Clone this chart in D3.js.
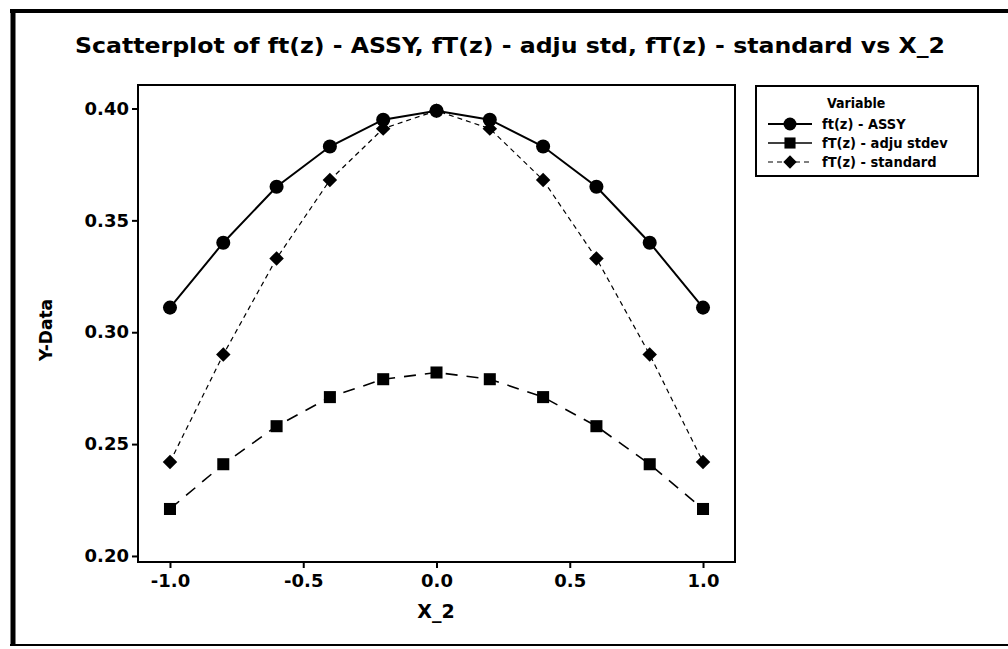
<!DOCTYPE html>
<html><head><meta charset="utf-8">
<script src="https://cdn.jsdelivr.net/npm/d3@7"></script>
<style>body{margin:0;background:#fff}svg{display:block}</style>
</head><body>
<svg id="c" width="1008" height="649"></svg>
<script>
const xValues = [-1.0,-0.8,-0.6,-0.4,-0.2,0.0,0.2,0.4,0.6,0.8,1.0];
const assy = [0.311,0.340,0.365,0.383,0.395,0.399,0.395,0.383,0.365,0.340,0.311];
const adjuStdev = [0.221,0.241,0.258,0.271,0.279,0.282,0.279,0.271,0.258,0.241,0.221];
const standard = [0.242,0.290,0.333,0.368,0.391,0.399,0.391,0.368,0.333,0.290,0.242];
const seriesNames = ["ft(z) - ASSY","fT(z) - adju stdev","fT(z) - standard"];
const xTicks = [-1.0,-0.5,0.0,0.5,1.0];
const yTicks = [0.20,0.25,0.30,0.35,0.40];

const svg = d3.select("#c");
const F = "'DejaVu Sans', Verdana, sans-serif";
const FC = "'DejaVu Sans Condensed', 'DejaVu Sans', sans-serif";
svg.append("rect").attr("x",0).attr("y",0).attr("width",1008).attr("height",649).attr("fill","#fff");
svg.append("line").attr("x1",10).attr("x2",1008).attr("y1",11).attr("y2",11).attr("stroke","#000").attr("stroke-width",4);
svg.append("line").attr("x1",13).attr("x2",13).attr("y1",9).attr("y2",646).attr("stroke","#000").attr("stroke-width",5);
svg.append("line").attr("x1",10).attr("x2",1008).attr("y1",645).attr("y2",645).attr("stroke","#000").attr("stroke-width",2);

const L=138,R=735,T=85,B=562;
const x = d3.scaleLinear().domain([-1.12,1.12]).range([L,R]);
const y = d3.scaleLinear().domain([0.1973,0.4105]).range([B,T]);

svg.append("rect").attr("x",L).attr("y",T).attr("width",R-L).attr("height",B-T)
  .attr("fill","none").attr("stroke","#000").attr("stroke-width",2);

const yAxis = svg.append("g").attr("transform",`translate(${L},0)`)
  .call(d3.axisLeft(y).tickValues(yTicks).tickFormat(d=>d.toFixed(2)).tickSize(6).tickPadding(3));
const xAxis = svg.append("g").attr("transform",`translate(0,${B})`)
  .call(d3.axisBottom(x).tickValues(xTicks).tickFormat(d=>d.toFixed(1)).tickSize(6).tickPadding(6));
[yAxis,xAxis].forEach(g=>{
  g.select(".domain").remove();
  g.selectAll("line").attr("stroke","#000").attr("stroke-width",2);
  g.selectAll("text").attr("font-family",F).attr("font-weight","bold").attr("font-size",18).attr("fill","#000");
});

svg.append("text").attr("x",75).attr("y",53).attr("text-anchor","start")
  .attr("font-family",FC).attr("font-weight","bold").attr("font-size",21)
  .attr("textLength",870).attr("lengthAdjust","spacingAndGlyphs")
  .text("Scatterplot of ft(z) - ASSY, fT(z) - adju std, fT(z) - standard vs X_2");
svg.append("text").attr("x",436).attr("y",618).attr("text-anchor","middle")
  .attr("font-family",F).attr("font-weight","bold").attr("font-size",19).text("X_2");
svg.append("text").attr("transform","translate(52,330) rotate(-90)").attr("text-anchor","middle")
  .attr("font-family",F).attr("font-weight","bold").attr("font-size",17).text("Y-Data");

const series = [
  {name:seriesNames[0], vals:assy, dash:null, w:2, sym:d3.symbolCircle, size:155, rot:0},
  {name:seriesNames[1], vals:adjuStdev, dash:"12,9", w:1.6, sym:d3.symbolSquare, size:145, rot:0},
  {name:seriesNames[2], vals:standard, dash:"5,4", w:1.2, sym:d3.symbolSquare, size:105, rot:45}
];
const line = d3.line().x(d=>x(d[0])).y(d=>y(d[1]));
series.forEach(s=>{
  const pts = xValues.map((v,i)=>[v,s.vals[i]]);
  svg.append("path").datum(pts).attr("d",line).attr("fill","none").attr("stroke","#000")
    .attr("stroke-width",s.w).attr("stroke-dasharray",s.dash);
  svg.selectAll(null).data(pts).enter().append("path")
    .attr("d",d3.symbol().type(s.sym).size(s.size))
    .attr("transform",d=>`translate(${x(d[0])},${y(d[1])}) rotate(${s.rot})`).attr("fill","#000");
});

const lg = svg.append("g");
lg.append("rect").attr("x",756).attr("y",86).attr("width",222).attr("height",90)
  .attr("fill","#fff").attr("stroke","#000").attr("stroke-width",2);
lg.append("text").attr("x",827).attr("y",108).attr("font-family",FC).attr("font-size",14).attr("font-weight","600").text("Variable");
series.forEach((s,i)=>{
  const yy = 124 + i*19;
  lg.append("line").attr("x1",768).attr("x2",812).attr("y1",yy).attr("y2",yy).attr("stroke","#000")
    .attr("stroke-width",s.w).attr("stroke-dasharray",i==1?null:s.dash);
  lg.append("path").attr("d",d3.symbol().type(s.sym).size(s.size*0.85)).attr("transform",`translate(790,${yy}) rotate(${s.rot})`);
  lg.append("text").attr("x",822).attr("y",yy+5).attr("font-family",FC).attr("font-size",14.5).attr("font-weight","600").text(s.name);
});
</script>
</body></html>
